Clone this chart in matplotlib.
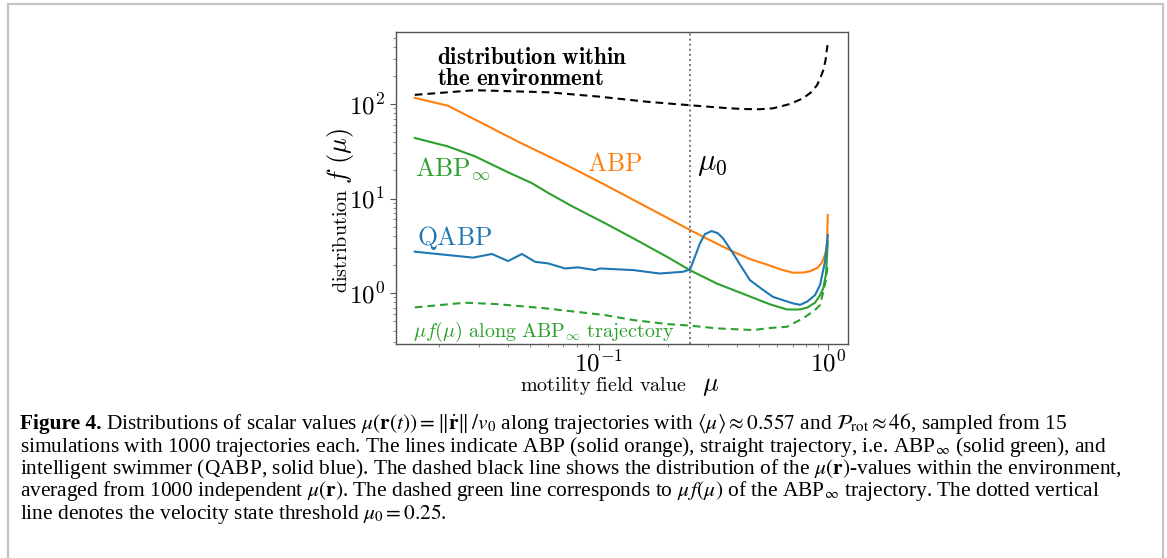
import matplotlib
matplotlib.use('Agg')
import matplotlib.pyplot as plt
from matplotlib.patches import Rectangle
from matplotlib.ticker import FuncFormatter, LogLocator
import numpy as np

plt.rcParams['mathtext.fontset'] = 'cm'

# ---------------- data ----------------
env_mu = [0.0157, 0.0287, 0.06, 0.0991, 0.16, 0.25, 0.35, 0.426, 0.5, 0.575,
          0.682, 0.778, 0.84, 0.895, 0.93, 0.954, 0.975, 0.987, 0.995]
env_f = [125, 140, 133, 120, 106, 97, 91, 88.5, 88, 90,
         100, 115, 132, 158, 195, 229, 290, 370, 420]

abp_mu = [0.0157, 0.0219, 0.03, 0.045, 0.0711, 0.106, 0.141, 0.2, 0.25, 0.3,
          0.385, 0.456, 0.542, 0.62, 0.703, 0.78, 0.834, 0.9, 0.94, 0.97,
          0.985, 0.99, 0.997]
abp_f = [116, 96, 65, 39.3, 23, 14, 9.7, 6.2, 4.64, 3.7,
         2.74, 2.29, 2.0, 1.78, 1.64, 1.65, 1.70, 1.85, 2.1, 2.54,
         3.0, 3.5, 6.7]

abpinf_mu = [0.0157, 0.0219, 0.0287, 0.04, 0.0508, 0.0599, 0.0762, 0.106, 0.141,
             0.198, 0.25, 0.327, 0.456, 0.558, 0.662, 0.75, 0.81, 0.877, 0.923,
             0.954, 0.98, 0.997]
abpinf_f = [43.7, 35.6, 28, 19, 14.6, 11.5, 8.3, 5.5, 3.8,
            2.42, 1.74, 1.26, 0.92, 0.76, 0.67, 0.67, 0.70, 0.79, 0.95,
            1.13, 1.6, 3.5]

qabp_mu = [0.0157, 0.0282, 0.0341, 0.0401, 0.0461, 0.0526, 0.0599, 0.0711, 0.0809,
           0.0961, 0.101, 0.141, 0.184, 0.233, 0.25, 0.276, 0.29, 0.31, 0.33,
           0.348, 0.385, 0.42, 0.456, 0.52, 0.575, 0.703, 0.755, 0.81, 0.877,
           0.923, 0.97, 0.998]
qabp_f = [2.74, 2.37, 2.59, 2.18, 2.59, 2.14, 2.06, 1.82, 1.87,
          1.75, 1.82, 1.75, 1.61, 1.68, 1.78, 3.36, 4.2, 4.53, 4.3,
          3.79, 2.63, 1.87, 1.37, 1.08, 0.91, 0.778, 0.75, 0.81, 0.95,
          1.22, 2.16, 4.1]

muf_mu = [0.0157, 0.026, 0.0351, 0.0581, 0.106, 0.141, 0.198, 0.25, 0.327, 0.47,
          0.558, 0.662, 0.778, 0.877, 0.923, 0.954, 0.98, 0.995]
muf_f = [0.705, 0.79, 0.766, 0.69, 0.585, 0.518, 0.47, 0.452, 0.423, 0.406,
         0.427, 0.44, 0.54, 0.66, 0.75, 1.04, 1.4, 2.0]

mu0 = 0.25
xlim = (0.0130, 1.222)
ylim = (0.289, 578)

# ---------------- figure ----------------
W, H = 1167, 558
fig = plt.figure(figsize=(W / 100, H / 100), dpi=100)


def P(px, py):
    return px / W, 1 - py / H


# outer frame
fig.patches.append(Rectangle((8 / W, -0.05), (1163 - 8) / W, 1.05 - 4 / H,
                             transform=fig.transFigure, fill=False,
                             edgecolor='#c4c4c4', linewidth=1.6))

ax = fig.add_axes([396 / W, 1 - 344 / H, 452 / W, 312 / H])
ax.set_xscale('log')
ax.set_yscale('log')

orange, green, blue = '#ff7f0e', '#2ca02c', '#1f77b4'
lw = 1.5
ax.plot(env_mu, env_f, color='black', lw=lw, dashes=(3.7, 2.4))
ax.plot(abp_mu, abp_f, color=orange, lw=lw)
ax.plot(abpinf_mu, abpinf_f, color=green, lw=lw)
ax.plot(qabp_mu, qabp_f, color=blue, lw=lw)
ax.plot(muf_mu, muf_f, color=green, lw=lw, dashes=(3.7, 2.4))
ax.axvline(mu0, color='#777777', lw=1.4, ls=(0, (1, 1.6)))

ax.set_xlim(*xlim)
ax.set_ylim(*ylim)

fmt = FuncFormatter(lambda v, p: r'$10^{%d}$' % int(round(np.log10(v))))
for axis in (ax.xaxis, ax.yaxis):
    axis.set_major_locator(LogLocator(base=10))
    axis.set_minor_locator(LogLocator(base=10, subs=np.arange(2, 10)))
    axis.set_major_formatter(fmt)
    axis.set_minor_formatter(FuncFormatter(lambda v, p: ''))
ax.tick_params(which='major', length=4, width=0.8, color='#555555',
               labelsize=18, pad=4)
ax.tick_params(which='minor', length=2.2, width=0.6, color='#777777')
ax.tick_params(axis='x', which='major', pad=0.5)
for s in ax.spines.values():
    s.set_color('#555555')
    s.set_linewidth(1.0)

# axis labels
fig.text(*P(347, 293), r'$\mathrm{distribution}$', rotation=90,
         rotation_mode='anchor', ha='left', va='baseline', fontsize=14.5)
fig.text(*P(347, 184), r'$f\ (\mu)$', rotation=90,
         rotation_mode='anchor', ha='left', va='baseline', fontsize=19)
fig.text(*P(520, 391), r'$\mathrm{motility\ field\ value}$', ha='left',
         va='baseline', fontsize=14.5)
fig.text(*P(702, 391), r'$\mu$', ha='left', va='baseline', fontsize=19)

# annotations
fig.text(*P(437, 64), r'$\mathbf{distribution\ within}$', ha='left',
         va='baseline', fontsize=16.5)
fig.text(*P(437, 85), r'$\mathbf{the\ environment}$', ha='left',
         va='baseline', fontsize=16.5)
fig.text(*P(587, 170.7), r'$\mathrm{ABP}$', color=orange, ha='left',
         va='baseline', fontsize=18.5)
fig.text(*P(697, 169.7), r'$\mu_0$', color='black', ha='left',
         va='baseline', fontsize=22)
fig.text(*P(415, 175.3), r'$\mathrm{ABP}_\infty$', color=green, ha='left',
         va='baseline', fontsize=18.5)
fig.text(*P(417, 245), r'$\mathrm{QABP}$', color=blue, ha='left',
         va='baseline', fontsize=18.5)
fig.text(*P(413, 337), r'$\mu f(\mu)\ \mathrm{along\ ABP}_\infty\ \mathrm{trajectory}$',
         color=green, ha='left', va='baseline', fontsize=14.5)

# caption
cap_kw = dict(family='Liberation Serif', math_fontfamily='stix', fontsize=15.4,
              ha='left', va='baseline')
cap_lines = [
    r'Distributions of scalar values $\mu(\mathbf{r}(t)) = \Vert\dot{\mathbf{r}}\Vert\,/v_0$'
    r' along trajectories with $\langle\mu\rangle \approx 0.557$ and '
    r'$\mathcal{P}_{\mathrm{rot}} \approx 46$, sampled from 15',
    r'simulations with 1000 trajectories each. The lines indicate ABP (solid orange), '
    r'straight trajectory, i.e. ABP$_\infty$ (solid green), and',
    r'intelligent swimmer (QABP, solid blue). The dashed black line shows the '
    r'distribution of the $\mu(\mathbf{r})$-values within the environment,',
    r'averaged from 1000 independent $\mu(\mathbf{r})$. The dashed green line '
    r'corresponds to $\mu\,f(\mu)$ of the ABP$_\infty$ trajectory. The dotted vertical',
    r'line denotes the velocity state threshold $\mu_0 = 0.25$.',
]
baselines = [429, 452, 474, 496, 519]

bold = fig.text(*P(20, baselines[0]), 'Figure 4.', fontweight='bold', **cap_kw)
renderer = fig.canvas.get_renderer()
bb = bold.get_window_extent(renderer)
fig.text((bb.x1 + 4) / W, 1 - baselines[0] / H, cap_lines[0], **cap_kw)
for line, yb in zip(cap_lines[1:], baselines[1:]):
    fig.text(*P(20, yb), line, **cap_kw)

fig.savefig('out.png', dpi=100)
